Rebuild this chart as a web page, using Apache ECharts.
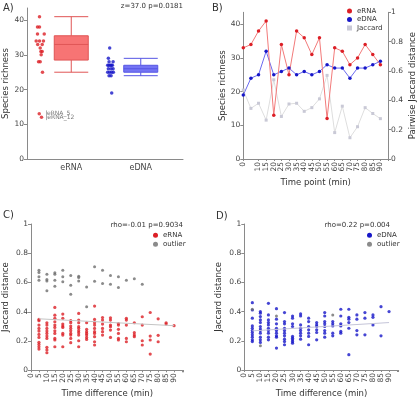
<!DOCTYPE html>
<html>
<head>
<meta charset="utf-8">
<script src="https://cdn.jsdelivr.net/npm/echarts@6/dist/echarts.min.js"></script>
<style>
  html, body { margin: 0; padding: 0; background: #fff; }
  #myChart { width: 418px; height: 400px; }
</style>
</head>
<body>
<div id="myChart"></div>
<script>
// panel A / B data
const timePoints = [0, 5, 10, 15, 20, 25, 30, 35, 40, 45, 50, 55, 60, 65, 70, 75, 80, 85, 90];
const eRNARichness = [33, 34, 38, 41, 13, 34, 25, 38, 36, 31, 36, 12, 33, 32, 28, 30, 34, 31, 28];
const eDNARichness = [19, 24, 25, 32, 25, 26, 27, 25, 26, 25, 26, 28, 27, 27, 24, 27, 27, 28, 29];
const jaccardDist = [0.47, 0.345, 0.38, 0.265, 0.54, 0.29, 0.375, 0.38, 0.325, 0.35, 0.41, 0.57, 0.18, 0.36, 0.145, 0.22, 0.35, 0.31, 0.275];
// strip jitter (category units)
const eRNAJitter = [-0.036, -0.058, -0.039, -0.01, -0.014, -0.01, 0.033, -0.01, -0.039, 0.01, 0.058, 0.019, 0.029, 0, -0.024, 0.014, 0.047, 0.029, 0];
const eDNAJitter = [0.019, -0.019, -0.039, -0.01, -0.01, -0.029, -0.039, 0.019, 0.01, 0.043, 0.039, -0.019, 0, 0.029, 0.01, -0.022, 0.014, 0.039, -0.029];
const boxCategories = ['eRNA', 'eDNA'];
const eRNABox = [25, 28.5, 33, 35.5, 41];
const eDNABox = [24, 25, 26, 27, 29];
const outlierLabels = {4: 'eRNA_5', 11: 'eRNA_12'};

// panel C / D data: Jaccard distance per time difference
const timeDiffs = [5, 10, 15, 20, 25, 30, 35, 40, 45, 50, 55, 60, 65, 70, 75, 80, 85, 90];
const eRNAPairs = [
    [0.348, 0.339, 0.309, 0.286, 0.268, 0.245, 0.225, 0.191, 0.177, 0.161, 0.145],
    [0.325, 0.309, 0.286, 0.268, 0.252, 0.234, 0.218, 0.157, 0.139, 0.12],
    [0.43, 0.377, 0.355, 0.332, 0.309, 0.293, 0.27, 0.252, 0.218, 0.207, 0.161],
    [0.384, 0.355, 0.316, 0.302, 0.293, 0.252, 0.241, 0.161],
    [0.339, 0.325, 0.302, 0.286, 0.27, 0.252, 0.241, 0.218, 0.189],
    [0.389, 0.343, 0.325, 0.298, 0.286, 0.27, 0.257, 0.241, 0.202, 0.161],
    [0.325, 0.28, 0.264, 0.252, 0.241, 0.225, 0.211],
    [0.439, 0.348, 0.325, 0.309, 0.286, 0.264, 0.252, 0.23, 0.195, 0.173],
    [0.361, 0.343, 0.316, 0.286, 0.264, 0.241],
    [0.359, 0.343, 0.309, 0.298, 0.275, 0.225],
    [0.32, 0.309, 0.28, 0.252, 0.218, 0.207],
    [0.355, 0.343, 0.309, 0.218, 0.195],
    [0.325, 0.257, 0.241, 0.23],
    [0.366, 0.309, 0.202, 0.173],
    [0.395, 0.234, 0.207, 0.111],
    [0.352, 0.239, 0.195],
    [0.325, 0.316],
    [0.305]
];
const eRNAOutlierPairs = [
    [0.684, 0.668, 0.639, 0.616],
    [0.657, 0.62, 0.611, 0.543],
    [0.666, 0.657, 0.616, 0.575],
    [0.684, 0.639, 0.605],
    [0.648, 0.582, 0.52],
    [0.643, 0.634, 0.611],
    [0.57, 0.434],
    [0.707, 0.609],
    [0.684, 0.593],
    [0.648, 0.589],
    [0.639, 0.566],
    [0.616],
    [0.625],
    [0.589],
    [], [], [], []
];
const eDNAPairs = [
    [0.461, 0.411, 0.355, 0.302, 0.286, 0.27, 0.257, 0.241, 0.225, 0.207, 0.195],
    [0.4, 0.389, 0.366, 0.343, 0.325, 0.298, 0.28, 0.27, 0.252, 0.225, 0.207, 0.189],
    [0.457, 0.377, 0.343, 0.325, 0.309, 0.286, 0.27, 0.252, 0.225, 0.207],
    [0.42, 0.348, 0.316, 0.286, 0.27, 0.252, 0.234, 0.225, 0.15],
    [0.393, 0.332, 0.316, 0.286, 0.27, 0.252, 0.234, 0.211, 0.195, 0.173],
    [0.37, 0.355, 0.316, 0.298, 0.23, 0.218, 0.207, 0.195, 0.184],
    [0.384, 0.37, 0.309, 0.286, 0.27, 0.252, 0.234, 0.211],
    [0.355, 0.332, 0.298, 0.275, 0.252, 0.23, 0.173],
    [0.325, 0.309, 0.298, 0.275, 0.257, 0.207],
    [0.393, 0.37, 0.332, 0.316, 0.298, 0.27, 0.252, 0.225],
    [0.332, 0.316, 0.302, 0.252, 0.234],
    [0.416, 0.37, 0.316, 0.302, 0.264, 0.252],
    [0.416, 0.361, 0.348, 0.325, 0.286, 0.105],
    [0.377, 0.348, 0.27, 0.241],
    [0.393, 0.355, 0.241],
    [0.377, 0.361, 0.309],
    [0.434, 0.234],
    [0.4]
];
const eDNAOutlierDiffs = [5, 10, 20, 55];
const eDNAOutlierVals = [0.416, 0.166, 0.37, 0.377];
const trendX = [5, 90];
const eRNATrend = [0.352, 0.305];
const eDNATrend = [0.268, 0.325];

const RED = '#dc1f26', BLUE = '#1717c8', GREY = '#6e6e6e';
const FONT = 'DejaVu Sans';

function flatten(diffs, groups) {
    let out = [];
    groups.forEach((g, i) => g.forEach(v => out.push([diffs[i], v])));
    return out;
}

const axisLine = {lineStyle: {color: '#8a8a8a', width: 1}};
const axisTick = {length: 3, lineStyle: {color: '#8a8a8a'}};
const label = {color: '#444', fontSize: 7.5, margin: 3};
const nameStyle = {color: '#333', fontSize: 8.5};

function yAxisValue(grid, max, interval, name, gap, showMax) {
    return {
        type: 'value', gridIndex: grid, min: 0, max: max, interval: interval,
        name: name, nameLocation: 'middle', nameGap: gap, nameRotate: 90, nameTextStyle: nameStyle,
        axisLine: {show: true, ...axisLine}, axisTick: {show: true, ...axisTick},
        axisLabel: {...label, showMinLabel: true, showMaxLabel: showMax},
        splitLine: {show: false}
    };
}
function xAxisTime(grid, max, name) {
    return {
        type: 'value', gridIndex: grid, min: 0, max: max, interval: 5,
        name: name, nameLocation: 'middle', nameGap: 19, nameTextStyle: nameStyle,
        axisLine: {show: true, onZero: false, ...axisLine}, axisTick: {show: true, length: 2, lineStyle: {color: '#8a8a8a'}},
        axisLabel: {...label, rotate: 90, showMinLabel: true, showMaxLabel: true,
            formatter: v => (v <= 90 && v % 5 === 0 ? String(v) : '')},
        splitLine: {show: false}
    };
}

const myChart = echarts.init(document.getElementById('myChart'), null, {renderer: 'canvas'});

const option = {
    animation: false,
    textStyle: {fontFamily: FONT},
    title: [
        {text: 'A)', left: -2, top: -2, textStyle: {fontSize: 10, fontWeight: 'normal', color: '#333'}},
        {text: 'B)', left: 207, top: -2, textStyle: {fontSize: 10, fontWeight: 'normal', color: '#333'}},
        {text: 'C)', left: -2, top: 205, textStyle: {fontSize: 10, fontWeight: 'normal', color: '#333'}},
        {text: 'D)', left: 211, top: 206, textStyle: {fontSize: 10, fontWeight: 'normal', color: '#333'}},
        {text: 'z=37.0 p=0.0181', right: 235, top: 3, padding: 0, textStyle: {fontSize: 7, fontWeight: 'normal', color: '#333'}},
        {text: 'rho=-0.01 p=0.9034', right: 235, top: 222, padding: 0, textStyle: {fontSize: 7, fontWeight: 'normal', color: '#333'}},
        {text: 'rho=0.22 p=0.004', right: 28, top: 222, padding: 0, textStyle: {fontSize: 7, fontWeight: 'normal', color: '#333'}}
    ],
    legend: [
        {
            orient: 'vertical', left: 347, top: 7, padding: 0, itemGap: 0.5, itemWidth: 5, itemHeight: 5,
            textStyle: {fontSize: 7, color: '#333', lineHeight: 8},
            data: [{name: 'eRNA', icon: 'circle'}, {name: 'eDNA', icon: 'circle'}, {name: 'Jaccard', icon: 'rect'}]
        },
        {
            orient: 'vertical', left: 153, top: 231, padding: 0, itemGap: 0.5, itemWidth: 5, itemHeight: 5,
            textStyle: {fontSize: 7, color: '#333', lineHeight: 8.5},
            data: [{name: 'eRNA', icon: 'circle'}, {name: 'outlier', icon: 'circle'}]
        },
        {
            orient: 'vertical', left: 367, top: 231, padding: 0, itemGap: 0.5, itemWidth: 5, itemHeight: 5,
            textStyle: {fontSize: 7, color: '#333', lineHeight: 8.5},
            data: [{name: 'eDNA', icon: 'circle'}, {name: 'outlier', icon: 'circle'}]
        }
    ],
    grid: [
        {left: 27, top: 8, width: 156, height: 151},      // A, strip + axes
        {left: 36.5, top: 8, width: 139, height: 151},    // A, boxes + category labels
        {left: 243.3, top: 12.3, width: 146, height: 146.7}, // B
        {left: 30, top: 224, width: 153.6, height: 146.3},   // C
        {left: 244.3, top: 224, width: 154.4, height: 146}   // D
    ],
    xAxis: [
        {type: 'value', gridIndex: 0, min: 0.36, max: 2.605, axisLine: {show: true, onZero: false, ...axisLine},
            axisTick: {show: false}, axisLabel: {show: false}, splitLine: {show: false}},
        {type: 'category', gridIndex: 1, data: boxCategories, axisLine: {show: false}, axisTick: {show: false},
            axisLabel: {color: '#444', fontSize: 8, margin: 5}},
        xAxisTime(2, 95, 'Time point (min)'),
        xAxisTime(3, 96, 'Time difference (min)'),
        xAxisTime(4, 96, 'Time difference (min)')
    ],
    yAxis: [
        yAxisValue(0, 43.5, 10, 'Species richness', 16, false),
        {type: 'value', gridIndex: 1, min: 0, max: 43.5, show: false},
        yAxisValue(2, 43.56, 10, 'Species richness', 9, false),
        {...yAxisValue(2, 1, 0.2, 'Pairwise Jaccard distance', 20, true), position: 'right'},
        yAxisValue(3, 1, 0.2, 'Jaccard distance', 21, true),
        yAxisValue(4, 1, 0.2, 'Jaccard distance', 21, true)
    ],
    series: [
        // ---- A ----
        {
            type: 'boxplot', xAxisIndex: 1, yAxisIndex: 1, boxWidth: [34, 34],
            data: [
                {value: eRNABox, itemStyle: {color: '#f77474', borderColor: '#e05555', borderWidth: 1}},
                {value: eDNABox, itemStyle: {color: '#7474f4', borderColor: '#5656e4', borderWidth: 1}}
            ]
        },
        {
            name: 'eRNA strip', type: 'scatter', xAxisIndex: 0, yAxisIndex: 0, symbolSize: 3.5,
            itemStyle: {color: RED},
            data: eRNARichness.map((v, i) => {
                const item = {value: [1 - 0.45 + eRNAJitter[i], v]};
                if (outlierLabels[i]) {
                    item.label = {show: true, position: 'right', distance: i === 4 ? 6 : 4,
                        formatter: outlierLabels[i], fontSize: 6, color: '#555'};
                }
                return item;
            }),
            markLine: {
                silent: true, symbol: 'none', label: {show: false},
                lineStyle: {color: '#999', width: 0.8, type: 'solid'},
                data: [[{coord: [0.632, 14]}, {coord: [0.632, 11.2]}]]
            }
        },
        {
            name: 'eDNA strip', type: 'scatter', xAxisIndex: 0, yAxisIndex: 0, symbolSize: 3.5,
            itemStyle: {color: BLUE},
            data: eDNARichness.map((v, i) => [2 - 0.44 + eDNAJitter[i], v])
        },
        // ---- B ----
        {
            name: 'Jaccard', type: 'line', xAxisIndex: 2, yAxisIndex: 3, symbol: 'rect', symbolSize: 3,
            lineStyle: {color: '#dedede', width: 1}, itemStyle: {color: '#c9c9d6'},
            data: timePoints.map((t, i) => [t, jaccardDist[i]])
        },
        {
            name: 'eDNA', type: 'line', xAxisIndex: 2, yAxisIndex: 2, symbol: 'circle', symbolSize: 3.5,
            lineStyle: {color: '#6a6af0', width: 1}, itemStyle: {color: BLUE},
            data: timePoints.map((t, i) => [t, eDNARichness[i]])
        },
        {
            name: 'eRNA', type: 'line', xAxisIndex: 2, yAxisIndex: 2, symbol: 'circle', symbolSize: 3.5,
            lineStyle: {color: '#f27a7a', width: 1}, itemStyle: {color: RED},
            data: timePoints.map((t, i) => [t, eRNARichness[i]])
        },
        // ---- C ----
        {
            name: 'eRNA', type: 'scatter', xAxisIndex: 3, yAxisIndex: 4, symbolSize: 3.2,
            itemStyle: {color: RED}, data: flatten(timeDiffs, eRNAPairs)
        },
        {
            name: 'outlier', type: 'scatter', xAxisIndex: 3, yAxisIndex: 4, symbolSize: 3,
            itemStyle: {color: GREY}, data: flatten(timeDiffs, eRNAOutlierPairs)
        },
        {
            type: 'line', xAxisIndex: 3, yAxisIndex: 4, symbol: 'none',
            lineStyle: {color: '#c4c4c4', width: 1}, data: trendX.map((x, i) => [x, eRNATrend[i]])
        },
        // ---- D ----
        {
            name: 'eDNA', type: 'scatter', xAxisIndex: 4, yAxisIndex: 5, symbolSize: 3.2,
            itemStyle: {color: BLUE}, data: flatten(timeDiffs, eDNAPairs)
        },
        {
            name: 'outlier', type: 'scatter', xAxisIndex: 4, yAxisIndex: 5, symbolSize: 3,
            itemStyle: {color: GREY}, data: eDNAOutlierDiffs.map((d, i) => [d, eDNAOutlierVals[i]])
        },
        {
            type: 'line', xAxisIndex: 4, yAxisIndex: 5, symbol: 'none',
            lineStyle: {color: '#c4c4d8', width: 1}, data: trendX.map((x, i) => [x, eDNATrend[i]])
        }
    ]
};
myChart.setOption(option);

window.addEventListener('resize', myChart.resize);
</script>
</body>
</html>
